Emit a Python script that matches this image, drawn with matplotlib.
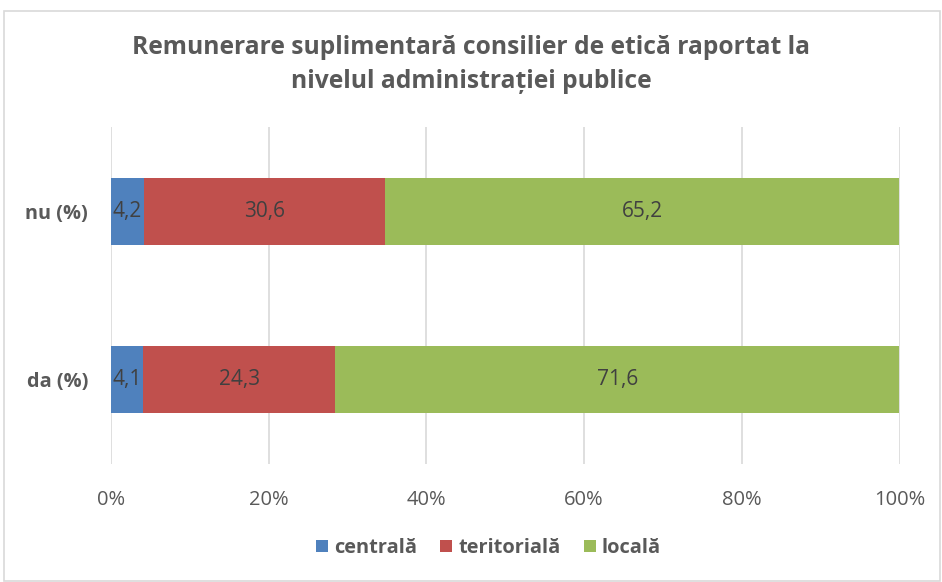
import matplotlib
matplotlib.use("Agg")
import matplotlib.pyplot as plt
from matplotlib.patches import Rectangle
import numpy as np

categories = ["da (%)", "nu (%)"]
series_names = ["centrală", "teritorială", "locală"]
centrala = [4.1, 4.2]
teritoriala = [24.3, 30.6]
locala = [71.6, 65.2]
colors = ["#4F81BD", "#C0504D", "#9BBB59"]
xticks = [0, 20, 40, 60, 80, 100]
xtick_labels = ["0%", "20%", "40%", "60%", "80%", "100%"]
title = "Remunerare suplimentară consilier de etică raportat la\nnivelul administrației publice"

plt.rcParams['font.family'] = ['Open Sans', 'DejaVu Sans']

fig = plt.figure(figsize=(9.42, 5.82), dpi=100)
fig.patches.append(Rectangle((4/942, 1/582), 936/942, 570/582, transform=fig.transFigure,
                             fill=False, edgecolor="#D9D9D9", linewidth=1.2))
ax = fig.add_axes([111/942, 118/582, 788.5/942, 337/582])

y = np.arange(len(categories))
left = np.zeros(len(categories))
for name, vals, col in zip(series_names, [centrala, teritoriala, locala], colors):
    ax.barh(y, vals, left=left, height=0.4, color=col, label=name, zorder=3)
    for yi, l, v in zip(y, left, vals):
        ax.text(l + v / 2, yi, f"{v:.1f}".replace(".", ","), ha="center", va="center",
                fontsize=15, color="#404040", zorder=4)
    left = left + np.array(vals)

ax.set_xlim(0, 100)
ax.set_ylim(-0.5, 1.5)
ax.set_xticks(xticks)
ax.set_xticklabels(xtick_labels, fontsize=14.5, color="#595959")
ax.set_yticks(y)
ax.set_yticklabels(categories, fontsize=14.3, color="#595959", fontweight="bold")
ax.tick_params(axis="both", length=0)
ax.tick_params(axis="y", pad=16.5)
ax.tick_params(axis="x", pad=19)
ax.grid(axis="x", color="#D9D9D9", linewidth=1.2, zorder=0)
for s in ax.spines.values():
    s.set_visible(False)

fig.text(0.5, 1 - 64.5/582, title, ha="center", va="center", fontsize=17.7,
         fontweight="bold", color="#595959", linespacing=1.48)

leg = fig.legend(loc="center", bbox_to_anchor=(488.5/942, 1 - 548/582), ncol=3, frameon=False,
                 fontsize=14.4, handlelength=0.6, handleheight=0.6, handletextpad=0.3,
                 columnspacing=1.15)
for t in leg.get_texts():
    t.set_color("#595959")
    t.set_fontweight("bold")

fig.savefig("out.png", dpi=100)
